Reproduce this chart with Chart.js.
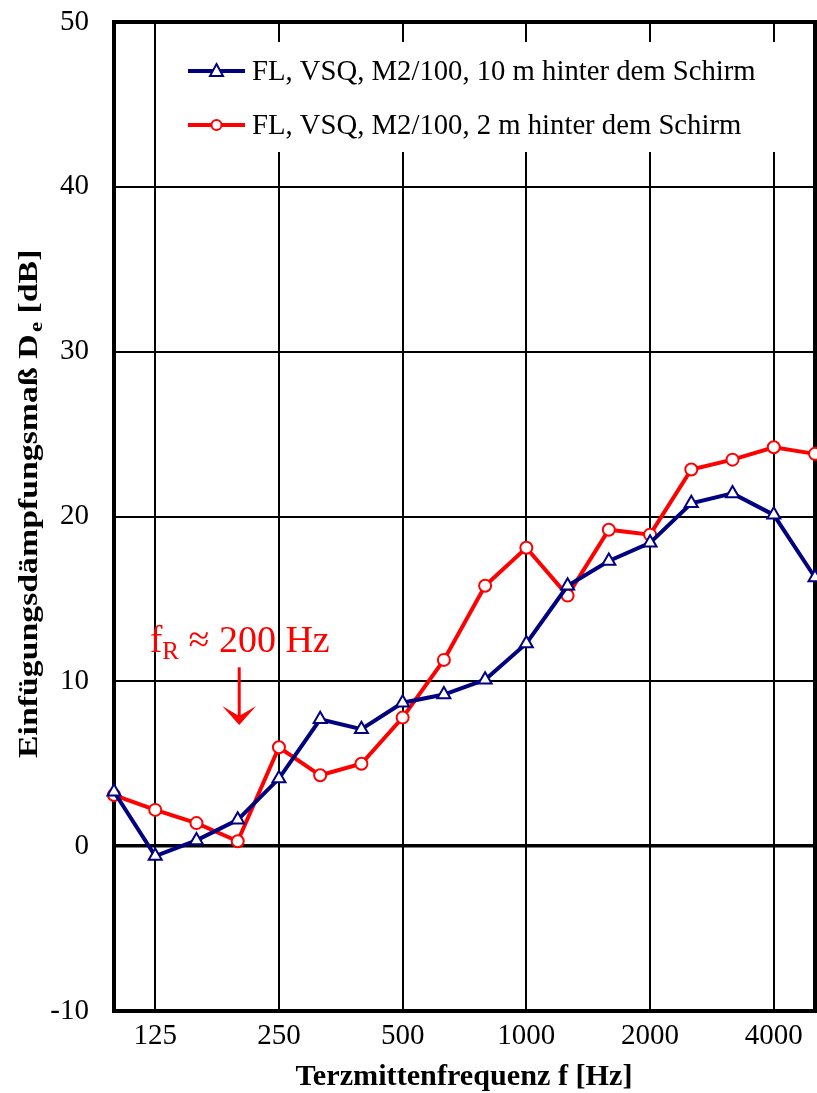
<!DOCTYPE html>
<html>
<head>
<meta charset="utf-8">
<script src="https://cdn.jsdelivr.net/npm/chart.js@4.4.1/dist/chart.umd.min.js"></script>
<style>
  html, body { margin: 0; padding: 0; background: #fff; }
  #wrap { width: 817px; height: 1093px; }
</style>
</head>
<body>
<div id="wrap"><canvas id="c" width="817" height="1093"></canvas></div>
<script>
// Third-octave band centre frequencies [Hz]
const bands = ['100', '125', '160', '200', '250', '315', '400', '500', '630',
               '800', '1000', '1250', '1600', '2000', '2500', '3150', '4000', '5000'];
// Bands that get a label and a vertical grid line
const labeledBands = ['125', '250', '500', '1000', '2000', '4000'];

// Insertion loss D_e [dB]
const behind10m = [3.3, -0.6, 0.35, 1.6, 4.1, 7.7, 7.1, 8.7, 9.2,
                   10.1, 12.3, 15.8, 17.3, 18.4, 20.8, 21.4, 20.1, 16.3];
const behind2m  = [3.1, 2.2, 1.4, 0.3, 6.0, 4.3, 5.0, 7.8, 11.3,
                   15.8, 18.1, 15.2, 19.2, 18.9, 22.85, 23.45, 24.2, 23.8];

const seriesNames = ['FL, VSQ, M2/100, 10 m hinter dem Schirm',
                     'FL, VSQ, M2/100, 2 m hinter dem Schirm'];

const yMin = -10, yMax = 50, yStep = 10;

// Resonance marker: band and the value range of the arrow / label
const resonanceBand = '200';
const resonanceLabelValue = 11.8;
const resonanceArrowFrom = 10.85;
const resonanceArrowTo = 7.35;

const SERIF = "'Liberation Serif', 'Times New Roman', serif";
const NAVY = '#000080';
const RED = '#ff0000';

// Scale paddings would push the plot area inwards; the layout padding alone sets it
const noScalePadding = s => { s.paddingTop = 0; s.paddingBottom = 0; s.paddingLeft = 0; s.paddingRight = 0; };

// White-backed legend inside the plot, lines with markers
const legendPlugin = {
  id: 'insideLegend',
  beforeDatasetsDraw(chart) {
    const ctx = chart.ctx;
    const a = chart.chartArea;
    ctx.save();
    ctx.fillStyle = '#fff';
    ctx.fillRect(a.left + 56, 42, 620, 110);
    const rows = [
      { y: 71, color: NAVY, style: 'triangle', text: seriesNames[0] },
      { y: 125, color: RED, style: 'circle', text: seriesNames[1] }
    ];
    rows.forEach(r => {
      ctx.strokeStyle = r.color;
      ctx.lineWidth = 4;
      ctx.beginPath();
      ctx.moveTo(188, r.y);
      ctx.lineTo(245, r.y);
      ctx.stroke();
      ctx.fillStyle = '#fff';
      ctx.lineWidth = 2;
      ctx.beginPath();
      if (r.style === 'circle') {
        ctx.arc(216.5, r.y, 5, 0, Math.PI * 2);
      } else {
        ctx.moveTo(216.5, r.y - 7);
        ctx.lineTo(223, r.y + 5);
        ctx.lineTo(210, r.y + 5);
        ctx.closePath();
      }
      ctx.fill();
      ctx.stroke();
      ctx.fillStyle = '#000';
      ctx.font = '28.7px ' + SERIF;
      ctx.textBaseline = 'alphabetic';
      ctx.textAlign = 'left';
      ctx.fillText(r.text, 252, r.y + 9);
    });
    ctx.restore();
  }
};

// Heavy frame around the plot area
const framePlugin = {
  id: 'frame',
  beforeDatasetsDraw(chart) {
    const a = chart.chartArea;
    const ctx = chart.ctx;
    ctx.save();
    ctx.strokeStyle = '#000';
    ctx.lineWidth = 4;
    ctx.strokeRect(a.left, a.top, a.right - a.left, a.bottom - a.top);
    ctx.restore();
  }
};

// Axis titles and the resonance-frequency note
const textPlugin = {
  id: 'texts',
  afterDraw(chart) {
    const ctx = chart.ctx;
    const xs = chart.scales.x, ys = chart.scales.y;
    ctx.save();
    ctx.fillStyle = '#000';

    // x-axis title, condensed to the axis proportions
    ctx.font = 'bold 30px ' + SERIF;
    const xt = 'Terzmittenfrequenz f [Hz]';
    const xw = ctx.measureText(xt).width;
    ctx.save();
    ctx.translate(464, 1085);
    ctx.scale(337 / xw, 1);
    ctx.textAlign = 'center';
    ctx.textBaseline = 'alphabetic';
    ctx.fillText(xt, 0, 0);
    ctx.restore();

    // y-axis title with subscript
    const p1 = 'Einfügungsdämpfungsmaß D', sub = 'e', p2 = ' [dB]';
    const bigF = 'bold 28px ' + SERIF, subF = 'bold 19px ' + SERIF;
    ctx.font = bigF; const w1 = ctx.measureText(p1).width; const w3 = ctx.measureText(p2).width;
    ctx.font = subF; const w2 = ctx.measureText(sub).width;
    const total = w1 + w2 + w3;
    const fit = 506 / total;
    ctx.save();
    ctx.translate(37, 505);
    ctx.rotate(-Math.PI / 2);
    ctx.scale(fit, 1);
    ctx.textAlign = 'left';
    ctx.textBaseline = 'alphabetic';
    let x0 = -total / 2;
    ctx.font = bigF; ctx.fillText(p1, x0, 0); x0 += w1;
    ctx.font = subF; ctx.fillText(sub, x0 + 2, 5); x0 += w2 + 2;
    ctx.font = bigF; ctx.fillText(p2, x0, 0);
    ctx.restore();

    // resonance note: f_R ≈ 200 Hz with a downward arrow
    const cx = xs.getPixelForValue(bands.indexOf(resonanceBand));
    const ty = ys.getPixelForValue(resonanceLabelValue);
    ctx.fillStyle = RED;
    const fa = '38px ' + SERIF, fr = '25px ' + SERIF;
    ctx.font = fa; const a1 = ctx.measureText('f').width; const a3 = ctx.measureText(' ≈ 200 Hz').width;
    ctx.font = fr; const a2 = ctx.measureText('R').width;
    let tx = cx - (a1 + a2 + a3) / 2 + 2;
    ctx.textAlign = 'left';
    ctx.textBaseline = 'alphabetic';
    ctx.font = fa; ctx.fillText('f', tx, ty); tx += a1;
    ctx.font = fr; ctx.fillText('R', tx, ty + 7); tx += a2;
    ctx.font = fa; ctx.fillText(' ≈ 200 Hz', tx, ty);

    const ay0 = ys.getPixelForValue(resonanceArrowFrom);
    const ay1 = ys.getPixelForValue(resonanceArrowTo);
    const ax = cx + 1.5;
    ctx.strokeStyle = RED;
    ctx.lineWidth = 3;
    ctx.beginPath();
    ctx.moveTo(ax, ay0);
    ctx.lineTo(ax, ay1 - 8);
    ctx.stroke();
    ctx.beginPath();
    ctx.moveTo(ax, ay1);
    ctx.lineTo(ax - 17, ay1 - 19);
    ctx.lineTo(ax, ay1 - 9);
    ctx.lineTo(ax + 17, ay1 - 19);
    ctx.closePath();
    ctx.fill();
    ctx.restore();
  }
};

new Chart(document.getElementById('c'), {
  type: 'line',
  data: {
    labels: bands,
    datasets: [
      {
        label: seriesNames[0],
        data: behind10m,
        borderColor: NAVY,
        borderWidth: 4,
        pointStyle: 'triangle',
        pointRadius: 7.5,
        pointBorderWidth: 2,
        pointBackgroundColor: '#fff',
        pointBorderColor: NAVY,
        tension: 0,
        clip: false
      },
      {
        label: seriesNames[1],
        data: behind2m,
        borderColor: RED,
        borderWidth: 4,
        pointStyle: 'circle',
        pointRadius: 6,
        pointBorderWidth: 2,
        pointBackgroundColor: '#fff',
        pointBorderColor: RED,
        tension: 0,
        clip: false
      }
    ]
  },
  options: {
    responsive: false,
    animation: false,
    devicePixelRatio: 1,
    layout: { autoPadding: false, padding: { top: 22, right: 2, left: 0, bottom: 0 } },
    plugins: {
      legend: { display: false },
      tooltip: { enabled: false }
    },
    scales: {
      x: {
        type: 'category',
        offset: false,
        border: { display: false },
        grid: {
          drawTicks: false,
          color: c => (c.tick && labeledBands.includes(bands[c.index]) ? '#000' : 'rgba(0,0,0,0)'),
          lineWidth: 2
        },
        ticks: {
          autoSkip: false,
          maxRotation: 0,
          padding: 8,
          color: '#000',
          font: { family: SERIF, size: 29 },
          callback: (v, i) => (labeledBands.includes(bands[i]) ? bands[i] : '')
        },
        afterFit: s => { s.height = 82; noScalePadding(s); }
      },
      y: {
        min: yMin,
        max: yMax,
        border: { display: false },
        grid: {
          drawTicks: false,
          color: '#000',
          lineWidth: c => (c.tick && c.tick.value === 0 ? 3.5 : 2)
        },
        ticks: {
          stepSize: yStep,
          padding: 25,
          color: '#000',
          font: { family: SERIF, size: 29 }
        },
        afterFit: s => { s.width = 114; noScalePadding(s); }
      }
    }
  },
  plugins: [legendPlugin, framePlugin, textPlugin]
});
</script>
</body>
</html>
